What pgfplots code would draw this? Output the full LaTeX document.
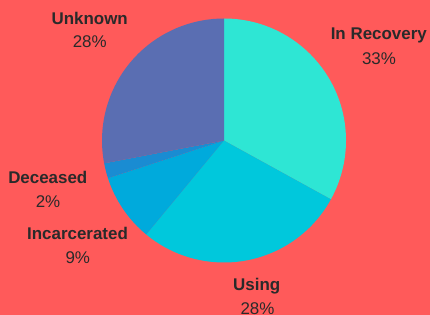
\documentclass[border=0pt]{standalone}
\usepackage{pgfplots}
\usepackage{pgfplotstable}
\pgfplotsset{compat=1.18}
\usepackage{fontspec}
\setmainfont{Liberation Sans}
\definecolor{bg}{HTML}{FF5A5A}
\definecolor{cRec}{HTML}{2EE6D4}
\definecolor{cUse}{HTML}{00C8DC}
\definecolor{cInc}{HTML}{00AADC}
\definecolor{cDec}{HTML}{1A8CD2}
\definecolor{cUnk}{HTML}{5A6EB2}
\definecolor{txt}{HTML}{2A2A2A}
\pgfplotstableread{
label value
Recovery 33
Using 28
Incarcerated 9
Deceased 2
Unknown 28
}\piedata
\pgfplotstablegetelem{0}{value}\of\piedata \let\vA\pgfplotsretval
\pgfplotstablegetelem{1}{value}\of\piedata \let\vB\pgfplotsretval
\pgfplotstablegetelem{2}{value}\of\piedata \let\vC\pgfplotsretval
\pgfplotstablegetelem{3}{value}\of\piedata \let\vD\pgfplotsretval
\pgfplotstablegetelem{4}{value}\of\piedata \let\vE\pgfplotsretval
\pgfmathsetmacro\aA{90}
\pgfmathsetmacro\aB{\aA-3.6*\vA}
\pgfmathsetmacro\aC{\aB-3.6*\vB}
\pgfmathsetmacro\aD{\aC-3.6*\vC}
\pgfmathsetmacro\aE{\aD-3.6*\vD}
\pgfmathsetmacro\aF{\aE-3.6*\vE}
\begin{document}
\begin{tikzpicture}[x=1bp,y=1bp]
\fill[bg] (0,0) rectangle (430,315);
\begin{axis}[hide axis, scale only axis, x=122bp, y=122bp,
  xmin=-1, xmax=1, ymin=-1, ymax=1,
  anchor=origin, at={(224bp,174.5bp)}, clip=false]
\fill[cRec] (axis cs:0,0) -- (axis cs:{cos(\aA)},{sin(\aA)}) arc[start angle=\aA, end angle=\aB, radius=122bp] -- cycle;
\fill[cUse] (axis cs:0,0) -- (axis cs:{cos(\aB)},{sin(\aB)}) arc[start angle=\aB, end angle=\aC, radius=122bp] -- cycle;
\fill[cInc] (axis cs:0,0) -- (axis cs:{cos(\aC)},{sin(\aC)}) arc[start angle=\aC, end angle=\aD, radius=122bp] -- cycle;
\fill[cDec] (axis cs:0,0) -- (axis cs:{cos(\aD)},{sin(\aD)}) arc[start angle=\aD, end angle=\aE, radius=122bp] -- cycle;
\fill[cUnk] (axis cs:0,0) -- (axis cs:{cos(\aE)},{sin(\aE)}) arc[start angle=\aE, end angle=\aF, radius=122bp] -- cycle;
\end{axis}
\begin{scope}[every node/.style={text=txt, inner sep=0pt, anchor=base, font=\fontsize{17}{20}\selectfont}]
\node at (89.7,291) {\bfseries Unknown};
\node at (89.7,267.3) {28\%};
\node at (378.8,275.7) {\bfseries In Recovery};
\node at (379,250.7) {33\%};
\node at (47.8,131.7) {\bfseries Deceased};
\node at (48,107.7) {2\%};
\node at (77.5,75.7) {\bfseries Incarcerated};
\node at (77.8,51.7) {9\%};
\node at (256.7,25) {\bfseries Using};
\node at (257.5,1) {28\%};
\end{scope}
\pgfresetboundingbox
\useasboundingbox (0,0) rectangle (430,315);
\end{tikzpicture}
\end{document}
